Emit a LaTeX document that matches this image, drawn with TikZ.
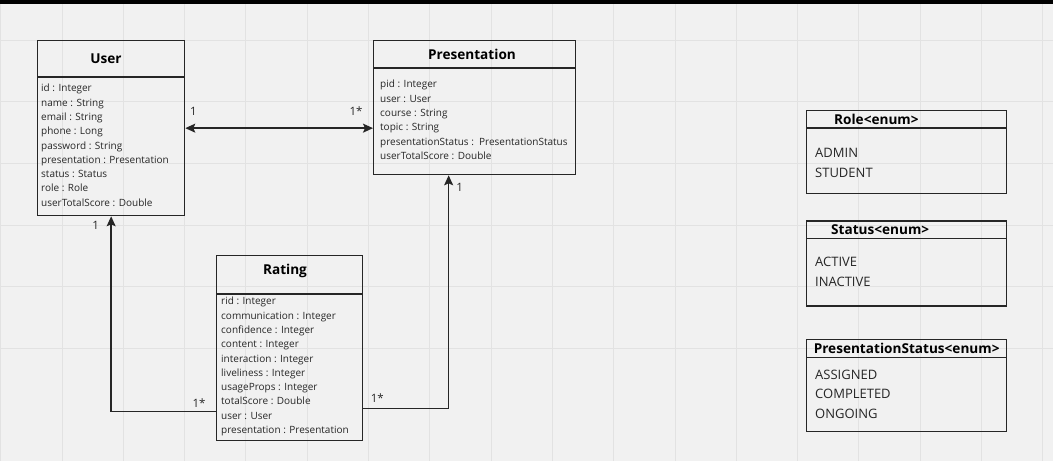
\documentclass[tikz,border=0pt]{standalone}
\usepackage{fontspec}
\setmainfont{Open Sans}
\usepackage{xcolor}
\usetikzlibrary{positioning, arrows.meta}

\definecolor{canvas}{HTML}{F1F1F1}
\definecolor{gridline}{HTML}{E2E2E2}
\definecolor{ink}{HTML}{262626}

\tikzset{
  classbox/.style 2 args={draw=ink, line width=1.3pt, minimum width=#1, minimum height=#2, anchor=north west, inner sep=0pt},
  classname/.style={font=\fontsize{13.6}{15}\selectfont\bfseries, inner sep=0pt},
  attrs/.style={font=\fontsize{10}{14.3}\selectfont, align=left, inner sep=0pt, text=ink},
  enumitems/.style={font=\fontsize{13}{19.6}\selectfont, align=left, inner sep=0pt, text=ink},
  mult/.style={font=\fontsize{11.5}{13}\selectfont, inner sep=0pt, text=ink},
  assoc/.style={draw=ink, line width=1.4pt, >={Stealth[length=10pt, width=9pt, inset=2pt]}}
}

\begin{document}
\begin{tikzpicture}[x=1pt, y=-1pt]
\useasboundingbox (0,0) rectangle (1053,461);

% Canvas and grid
\fill[canvas] (0,0) rectangle (1053,461);
\foreach \k in {0,...,17}
  \draw[gridline, line width=1pt] ({0.7+61.3*\k},3) -- ({0.7+61.3*\k},461);
\foreach \k in {1,...,6}
  \draw[gridline, line width=1pt] (0,{-21.7+61.7*\k}) -- (1053,{-21.7+61.7*\k});
\fill[black] (0,0) rectangle (1053,3.5);

% User class
\node[classbox={147pt}{175pt}] (user) at (37,40) {};
\draw[ink, line width=1.3pt] ([yshift=-37pt]user.north west) -- ([yshift=-37pt]user.north east);
\node[classname] (usertitle) at (106,59) {User};
\node[attrs, below right=44pt and 4pt of user.north west] (userattrs) {id : Integer\\ name : String\\ email : String\\ phone : Long\\ password : String\\ presentation : Presentation\\ status : Status\\ role : Role\\ userTotalScore : Double};

% Presentation class
\node[classbox={202pt}{134pt}] (pres) at (373,40) {};
\draw[ink, line width=1.3pt] ([yshift=-28pt]pres.north west) -- ([yshift=-28pt]pres.north east);
\node[classname] (prestitle) at (472,54) {Presentation};
\node[attrs, below right=40pt and 7pt of pres.north west] (presattrs) {pid : Integer\\ user : User\\ course : String\\ topic : String\\ presentationStatus :\ \ PresentationStatus\\ userTotalScore : Double};

% Rating class
\node[classbox={146pt}{185pt}] (rating) at (216,255) {};
\draw[ink, line width=1.3pt] ([yshift=-39pt]rating.north west) -- ([yshift=-39pt]rating.north east);
\node[classname] (ratingtitle) at (285,271) {Rating};
\node[attrs, below right=42pt and 5pt of rating.north west] (ratingattrs) {rid : Integer\\ communication : Integer\\ confidence : Integer\\ content : Integer\\ interaction : Integer\\ liveliness : Integer\\ usageProps : Integer\\ totalScore : Double\\ user : User\\ presentation : Presentation};

% Enums
\node[classbox={200pt}{83pt}] (role) at (806,110) {};
\draw[ink, line width=1.3pt] ([yshift=-18pt]role.north west) -- ([yshift=-18pt]role.north east);
\node[classname, anchor=west] (roletitle) at ([shift={(28pt,-9pt)}]role.north west) {Role<enum>};
\node[enumitems, below right=38pt and 9pt of role.north west] (roleitems) {ADMIN\\ STUDENT};

\node[classbox={200pt}{85pt}, below=26pt of role] (status) {};
\draw[ink, line width=1.3pt] ([yshift=-18pt]status.north west) -- ([yshift=-18pt]status.north east);
\node[classname, anchor=west] (statustitle) at ([shift={(25pt,-9pt)}]status.north west) {Status<enum>};
\node[enumitems, below right=37pt and 9pt of status.north west] (statusitems) {ACTIVE\\ INACTIVE};

\node[classbox={200pt}{92pt}, below=32pt of status] (pstatus) {};
\draw[ink, line width=1.3pt] ([yshift=-19pt]pstatus.north west) -- ([yshift=-19pt]pstatus.north east);
\node[classname] (pstatustitle) at ([yshift=-9.5pt]pstatus.north) {PresentationStatus<enum>};
\node[enumitems, below right=31pt and 9pt of pstatus.north west] (pstatusitems) {ASSIGNED\\ COMPLETED\\ ONGOING};

% Associations
\coordinate (ua) at (user.east -| pres.west);
\draw[assoc, <->] (user.east) -- (ua);
\node[mult] (m1) at ([shift={(8pt,17pt)}]user.east) {1};
\node[mult] (m2) at ([shift={(-17pt,17pt)}]ua) {1*};

\coordinate (ru) at ([yshift=-63.5pt]rating.west);
\draw[assoc, ->] (ru) -| (user.south);
\node[mult] (m3) at ([shift={(-15.5pt,-9pt)}]user.south) {1};
\node[mult] (m4) at ([shift={(-17pt,9pt)}]ru) {1*};

\coordinate (rp) at ([yshift=-60.5pt]rating.east);
\coordinate (pa) at ([xshift=-26pt]pres.south);
\draw[assoc, ->] (rp) -| (pa);
\node[mult] (m5) at ([shift={(11pt,-12pt)}]pa) {1};
\node[mult] (m6) at ([shift={(14pt,11pt)}]rp) {1*};
\end{tikzpicture}
\end{document}
